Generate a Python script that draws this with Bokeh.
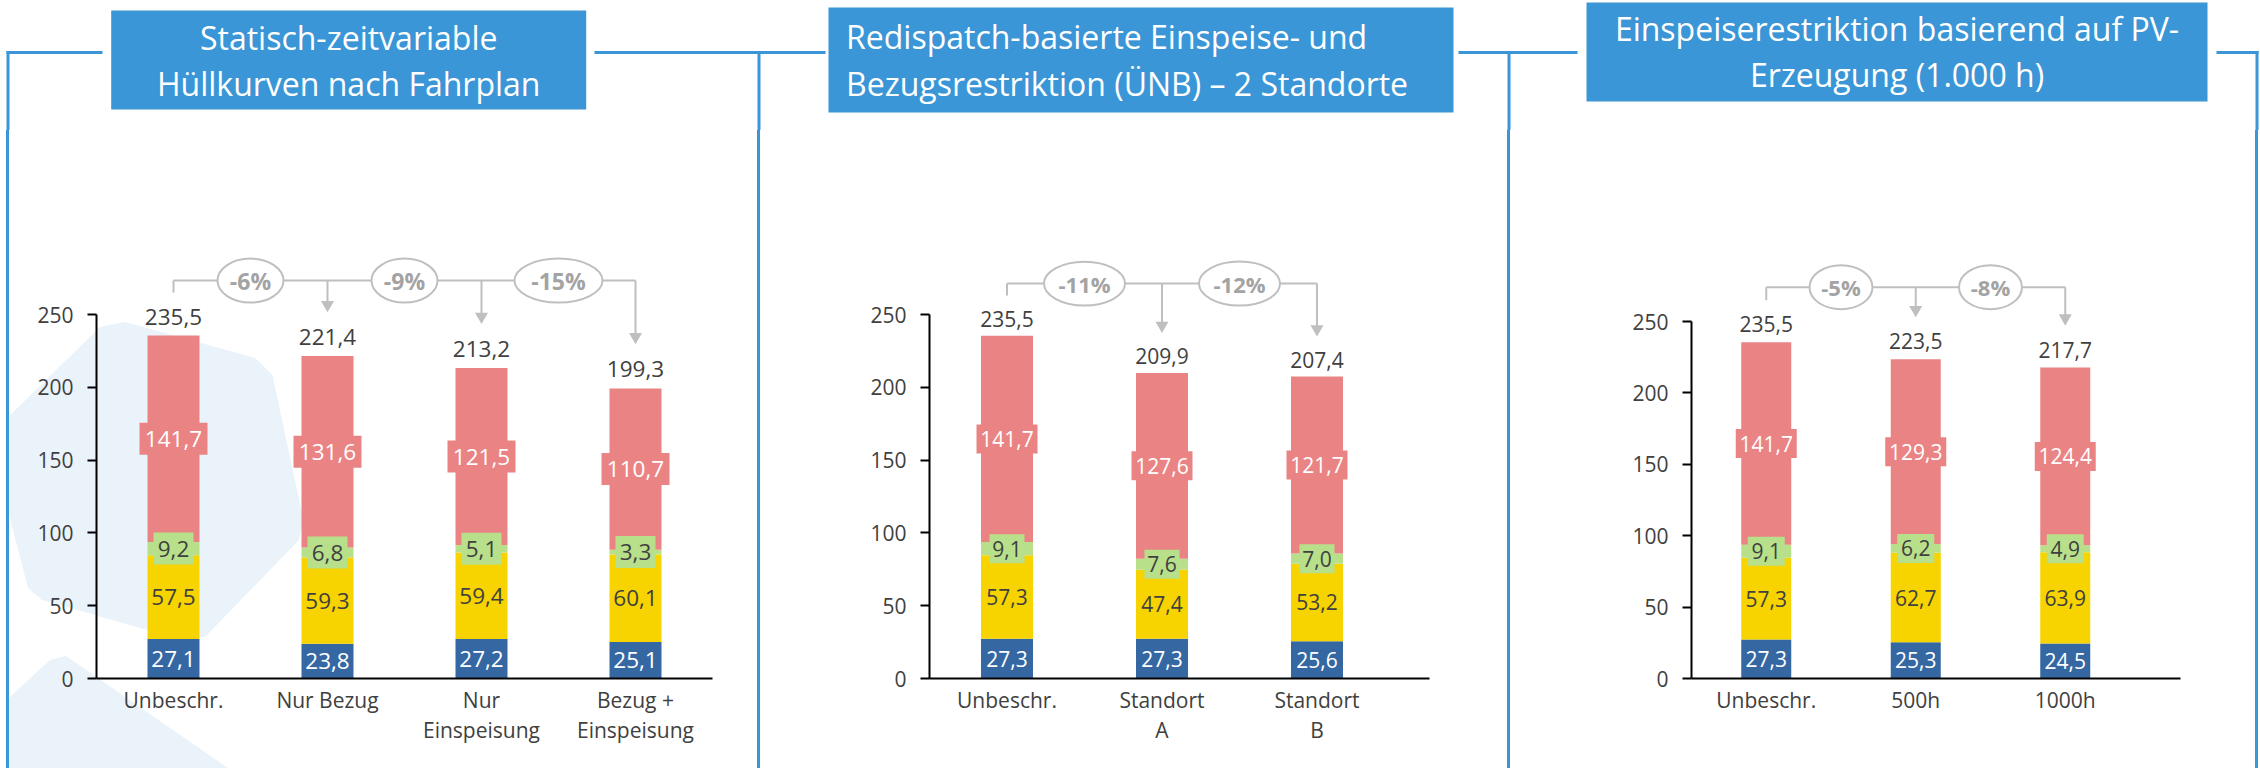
from bokeh.plotting import figure
from bokeh.models import Range1d, FixedTicker, Spacer
from bokeh.layouts import row, column
from bokeh.embed import file_html
from bokeh.resources import INLINE
from bokeh.core.properties import value

# ---------------- data ----------------
p1_categories = ["Unbeschr.", "Nur Bezug", "Nur\nEinspeisung", "Bezug +\nEinspeisung"]
p1_blue = [27.1, 23.8, 27.2, 25.1]
p1_yellow = [57.5, 59.3, 59.4, 60.1]
p1_green = [9.2, 6.8, 5.1, 3.3]
p1_red = [141.7, 131.6, 121.5, 110.7]
p1_totals = [235.5, 221.4, 213.2, 199.3]
p1_changes = ["-6%", "-9%", "-15%"]

p2_categories = ["Unbeschr.", "Standort\nA", "Standort\nB"]
p2_blue = [27.3, 27.3, 25.6]
p2_yellow = [57.3, 47.4, 53.2]
p2_green = [9.1, 7.6, 7.0]
p2_red = [141.7, 127.6, 121.7]
p2_totals = [235.5, 209.9, 207.4]
p2_changes = ["-11%", "-12%"]

p3_categories = ["Unbeschr.", "500h", "1000h"]
p3_blue = [27.3, 25.3, 24.5]
p3_yellow = [57.3, 62.7, 63.9]
p3_green = [9.1, 6.2, 4.9]
p3_red = [141.7, 129.3, 124.4]
p3_totals = [235.5, 223.5, 217.7]
p3_changes = ["-5%", "-8%"]

y_ticks = [0, 50, 100, 150, 200, 250]

p1_title = ["Statisch-zeitvariable", "Hüllkurven nach Fahrplan"]
p2_title = ["Redispatch-basierte Einspeise- und", "Bezugsrestriktion (ÜNB) – 2 Standorte"]
p3_title = ["Einspeiserestriktion basierend auf PV-", "Erzeugung (1.000 h)"]

# ---------------- style / layout ----------------
FONT = "Open Sans"
FRAME_BLUE = "#3A96D6"
C_BLUE = "#3568A3"
C_YELLOW = "#F7D400"
C_GREEN = "#B8E08A"
C_RED = "#EA8484"
TXT = "#404040"
GRAY = "#BFBFBF"
PCT = "#A3A3A3"
DECO = "#EAF2FA"

PAGE_W = 2260
SPLIT_Y = 130
BOTTOM_Y = 768
ZERO_Y = 678
LINE_Y = (50.5, 53.5)

TOP_SEGS = [(6, 102), (594, 825), (1458, 1577), (2216, 2258)]
VLINES = [(6, 9), (757, 760), (1507, 1510), (2255, 2258)]

P1 = dict(left=9, width=748, fl=96, fr=712, y250=314, sp=154, bar=52, font=22.5,
          red_box=(68, 32), green_box=(40, 32), total_off=19, gap=55, tip=44, stub=12,
          pct_font=23, ell_char=22, ell_h=44,
          box=(110.7, 585.7, 10, 109), title_align="center", title_x=348.2,
          baselines=[49.3, 95])
P2 = dict(left=760, width=747, fl=929, fr=1429, y250=314, sp=155, bar=52, font=21,
          red_box=(61, 29), green_box=(35, 29), total_off=17, gap=52, tip=40, stub=12,
          pct_font=22, ell_char=20.25, ell_h=44,
          box=(828, 1453, 7, 112), title_align="left", title_x=845.5,
          baselines=[48.3, 95])
P3 = dict(left=1510, width=745, fl=1691, fr=2180, y250=321, sp=149.5, bar=50, font=21,
          red_box=(61, 29), green_box=(37, 29), total_off=18, gap=55, tip=42, stub=13,
          pct_font=22, ell_char=21, ell_h=44,
          box=(1586, 2207, 2, 101), title_align="center", title_x=1896.5,
          baselines=[40.7, 86.5])

DECO_SHAPES = [
    [(0, 425), (100, 327), (125, 322), (255, 358), (272, 375), (303, 520), (298, 540),
     (205, 636), (185, 640), (42, 600), (28, 588), (0, 480)],
    [(0, 706), (50, 660), (66, 656), (228, 768), (0, 768)],
]


def fmt(v):
    return f"{v:.1f}".replace(".", ",")


def deco_styles(shapes, ox, oy, w, h):
    polys = "".join(
        "<polygon points='" + " ".join(f"{x - ox},{y - oy}" for x, y in shp)
        + "' fill='" + DECO.replace("#", "%23") + "'/>" for shp in shapes)
    svg = (f"<svg xmlns='http://www.w3.org/2000/svg' width='{w}' height='{h}'>"
           f"{polys}</svg>")
    return {"background-image": f'url("data:image/svg+xml;utf8,{svg}")',
            "background-repeat": "no-repeat"}


def make_top(panels):
    p = figure(width=PAGE_W, height=SPLIT_Y, x_range=Range1d(0, PAGE_W),
               y_range=Range1d(SPLIT_Y, 0), x_axis_location=None, y_axis_location=None,
               toolbar_location=None, output_backend="svg", min_border=0,
               outline_line_color=None)
    p.grid.visible = False
    for a, b in TOP_SEGS:
        p.quad(left=a, right=b, top=LINE_Y[0], bottom=LINE_Y[1], fill_color=FRAME_BLUE,
               line_color=None)
    for a, b in VLINES:
        p.quad(left=a, right=b, top=LINE_Y[0], bottom=SPLIT_Y, fill_color=FRAME_BLUE,
               line_color=None)
    for cfg, lines in panels:
        bl, br, bt, bb = cfg["box"]
        p.quad(left=bl, right=br, top=bt, bottom=bb, fill_color=FRAME_BLUE, line_color=None)
        for line, base in zip(lines, cfg["baselines"]):
            p.text(x=[cfg["title_x"]], y=[base - 12.4], text=[line],
                   text_align=cfg["title_align"], text_baseline="middle",
                   text_font=value(FONT), text_font_size=value("32px"), text_color="white")
    return p


def vspacer(w, blue):
    if blue:
        return Spacer(width=w, height=BOTTOM_Y - SPLIT_Y,
                      styles={"background-color": FRAME_BLUE})
    return Spacer(width=w, height=BOTTOM_Y - SPLIT_Y)


def make_chart(cfg, cats, blue, yellow, green, red, totals, changes, deco=None):
    L, W = cfg["left"], cfg["width"]
    fl, fr, sp = cfg["fl"], cfg["fr"], cfg["sp"]
    zero = ZERO_Y
    k = (zero - cfg["y250"]) / 250.0
    n = len(cats)
    x_start = -0.5
    x_end = (fr - fl) / sp - 0.5
    y_end = (zero - SPLIT_Y) / k
    extra = {}
    if deco:
        extra["styles"] = deco_styles(deco, L, SPLIT_Y, W, BOTTOM_Y - SPLIT_Y)
    p = figure(width=W, height=BOTTOM_Y - SPLIT_Y, x_range=Range1d(x_start, x_end),
               y_range=Range1d(0, y_end), toolbar_location=None, output_backend="svg",
               min_border_left=fl - L, min_border_right=L + W - fr, min_border_top=0,
               min_border_bottom=BOTTOM_Y - zero, outline_line_color=None, **extra)
    p.grid.visible = False
    p.extra_x_ranges = {"px": Range1d(fl, fr)}
    p.extra_y_ranges = {"px": Range1d(zero, SPLIT_Y)}

    if deco:
        p.border_fill_alpha = 0
        p.background_fill_alpha = 0
        for shp in deco:
            p.patch(x=[q[0] for q in shp], y=[q[1] for q in shp], x_range_name="px",
                    y_range_name="px", fill_color=DECO, line_color=None)

    xs = list(range(n))
    bw = cfg["bar"] / sp
    c1 = list(blue)
    c2 = [a + b for a, b in zip(c1, yellow)]
    c3 = [a + b for a, b in zip(c2, green)]
    c4 = [a + b for a, b in zip(c3, red)]
    zeros = [0] * n
    for bot, top, col in ((zeros, c1, C_BLUE), (c1, c2, C_YELLOW), (c2, c3, C_GREEN),
                          (c3, c4, C_RED)):
        p.vbar(x=xs, bottom=bot, top=top, width=bw, fill_color=col, line_color=None)

    def mid(a, b):
        return [(u + v) / 2 for u, v in zip(a, b)]

    rw, rh = cfg["red_box"]
    gw, gh = cfg["green_box"]
    p.rect(x=xs, y=mid(c3, c4), width=rw, height=rh, width_units="screen",
           height_units="screen", fill_color=C_RED, line_color=None)
    p.rect(x=xs, y=mid(c2, c3), width=gw, height=gh, width_units="screen",
           height_units="screen", fill_color=C_GREEN, line_color=None)

    fs = value(f"{cfg['font']}px")

    def lab(ys, vals, color, yoff=0):
        p.text(x=xs, y=ys, text=[fmt(v) for v in vals], text_align="center",
               text_baseline="middle", text_font=value(FONT), text_font_size=fs,
               text_color=color, y_offset=yoff)

    lab(mid(c3, c4), red, "white")
    lab(mid(c2, c3), green, TXT)
    lab(mid(c1, c2), yellow, TXT)
    lab(mid(zeros, c1), blue, "white")
    lab(totals, totals, TXT, -cfg["total_off"])

    # change brackets
    xp = [fl + (i + 0.5) * sp for i in range(n)]
    tops = [zero - t * k for t in totals]
    by = min(tops) - cfg["gap"]
    kw = dict(x_range_name="px", y_range_name="px", line_color=GRAY, line_width=2)
    p.line(x=[xp[0], xp[-1]], y=[by, by], **kw)
    p.line(x=[xp[0], xp[0]], y=[by, by + cfg["stub"]], **kw)
    tips = [tops[i] - cfg["tip"] for i in range(1, n)]
    for x, t in zip(xp[1:], tips):
        p.line(x=[x, x], y=[by, t - 10.5], **kw)
    p.scatter(x=xp[1:], y=[t - 7.5 for t in tips], marker="inverted_triangle", size=13,
              fill_color=GRAY, line_color=None, x_range_name="px", y_range_name="px")
    mx = [(xp[i] + xp[i + 1]) / 2 for i in range(n - 1)]
    p.ellipse(x=mx, y=[by] * len(mx), width=[len(c) * cfg["ell_char"] for c in changes],
              height=cfg["ell_h"], width_units="screen", height_units="screen",
              fill_color="white", line_color=GRAY, line_width=2,
              x_range_name="px", y_range_name="px")
    p.text(x=mx, y=[by] * len(mx), text=changes, text_align="center", text_baseline="middle",
           text_font=value(FONT), text_font_style="bold",
           text_font_size=value(f"{cfg['pct_font']}px"), text_color=PCT,
           x_range_name="px", y_range_name="px")

    # axes
    xa = p.xaxis[0]
    xa.ticker = FixedTicker(ticks=xs)
    xa.major_label_overrides = {i: c for i, c in enumerate(cats)}
    xa.bounds = (x_start - 9 / sp, x_end)
    xa.axis_line_color = "black"
    xa.axis_line_width = 2
    xa.major_tick_line_color = None
    xa.minor_tick_line_color = None
    xa.major_label_text_font = FONT
    xa.major_label_text_font_size = "21px"
    xa.major_label_text_color = TXT
    xa.major_label_standoff = 1
    xa.major_label_text_line_height = 1.1

    ya = p.yaxis[0]
    ya.ticker = FixedTicker(ticks=y_ticks)
    ya.bounds = (0, 250)
    ya.axis_line_color = "black"
    ya.axis_line_width = 2
    ya.major_tick_in = 0
    ya.major_tick_out = 9
    ya.major_tick_line_width = 2
    ya.major_tick_line_color = "black"
    ya.minor_tick_line_color = None
    ya.major_label_text_font = FONT
    ya.major_label_text_font_size = "21px"
    ya.major_label_text_color = TXT
    ya.major_label_standoff = 14
    return p


top = make_top([(P1, p1_title), (P2, p2_title), (P3, p3_title)])
ch1 = make_chart(P1, p1_categories, p1_blue, p1_yellow, p1_green, p1_red, p1_totals, p1_changes,
                 deco=DECO_SHAPES)
ch2 = make_chart(P2, p2_categories, p2_blue, p2_yellow, p2_green, p2_red, p2_totals, p2_changes)
ch3 = make_chart(P3, p3_categories, p3_blue, p3_yellow, p3_green, p3_red, p3_totals, p3_changes)

bottom = row(vspacer(VLINES[0][0], False), vspacer(3, True), ch1, vspacer(3, True), ch2,
             vspacer(3, True), ch3, vspacer(3, True), vspacer(PAGE_W - VLINES[3][1], False))
layout = column(row(top), bottom)

open("out.html", "w").write(file_html(layout, INLINE))
